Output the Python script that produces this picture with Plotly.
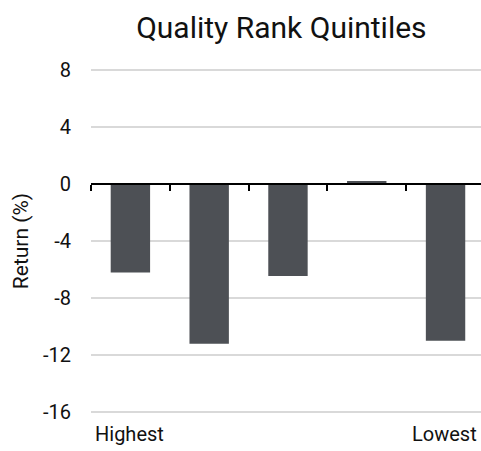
import plotly.graph_objects as go

categories = ["Q1", "Q2", "Q3", "Q4", "Q5"]
returns = [-6.2, -11.2, -6.45, 0.2, -11.0]
y_ticks = [8, 4, 0, -4, -8, -12, -16]
end_labels = ["Highest", "Lowest"]

FONT = "Roboto"
fig = go.Figure()
fig.add_trace(go.Bar(
    x=list(range(len(categories))), y=returns,
    marker=dict(color="#4d5055", line=dict(width=0)),
    width=0.5, hoverinfo="skip",
))
fig.add_trace(go.Scatter(x=[0], y=[0], xaxis="x2", mode="markers",
                         marker=dict(opacity=0), hoverinfo="skip", showlegend=False))

YMIN, YMAX = -16.2, 8.2
fig.update_layout(
    width=481, height=451,
    margin=dict(l=91, r=0, t=67, b=36),
    plot_bgcolor="white", paper_bgcolor="white",
    showlegend=False,
    title=dict(text="Quality Rank Quintiles", x=0.585, xanchor="center", y=0.94,
               yanchor="middle", font=dict(family=FONT, size=30, color="#111")),
    font=dict(family=FONT, color="#111"),
    xaxis=dict(range=[-0.5, 4.45], showticklabels=False, showgrid=False,
               zeroline=False, ticks="", fixedrange=True),
    xaxis2=dict(range=[-0.5, 4.45], overlaying="x", anchor="free",
                position=(0 - YMIN) / (YMAX - YMIN), showline=True,
                linecolor="black", linewidth=1.5,
                ticks="outside", ticklen=6, tickwidth=1.5, tickcolor="black",
                tickvals=[-0.5, 0.5, 1.5, 2.5, 3.5], showticklabels=False,
                showgrid=False, zeroline=False),
    yaxis=dict(range=[YMIN, YMAX], tickvals=y_ticks,
               ticktext=[str(v) for v in y_ticks],
               showgrid=True, gridcolor="#d9d9d9", gridwidth=1.5,
               zeroline=False, showline=False, ticks="",
               ticklabelstandoff=19,
               tickfont=dict(family=FONT, size=20, color="#111"),
               title=dict(text="Return (%)", standoff=8,
                          font=dict(family=FONT, size=21, color="#111"))),
)
fig.add_annotation(text=end_labels[0], x=-0.5, xref="x", y=-0.005, yref="paper",
                   xanchor="left", yanchor="top", showarrow=False, xshift=2,
                   yshift=-3, font=dict(family=FONT, size=20, color="#111"))
fig.add_annotation(text=end_labels[1], x=1, xref="paper", y=-0.005, yref="paper",
                   xanchor="right", yanchor="top", showarrow=False, xshift=-2,
                   yshift=-3, font=dict(family=FONT, size=20, color="#111"))

fig.write_html("out.html", config={"displayModeBar": False},
               post_script="document.body.style.margin='0';document.body.style.overflow='hidden';")
